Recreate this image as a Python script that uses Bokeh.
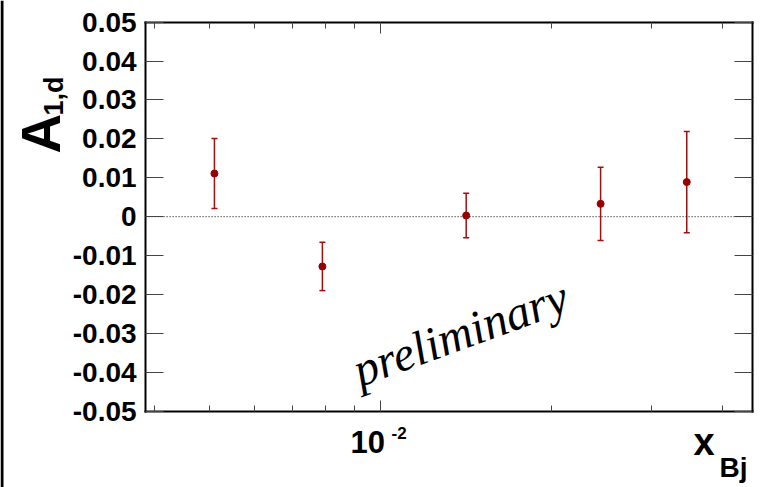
import math

from bokeh.embed import file_html
from bokeh.models import (ColumnDataSource, FixedTicker, Label, LinearAxis, LogAxis,
                          Range1d, Span, TeeHead, Whisker)
from bokeh.plotting import figure
from bokeh.resources import INLINE

# data
x_bj = [0.0051, 0.0079, 0.01415, 0.0244, 0.0346]
a1d = [0.0111, -0.0128, 0.0003, 0.0033, 0.0089]
a1d_err = [0.0090, 0.0062, 0.0057, 0.0094, 0.0130]

y_ticks = [-0.05, -0.04, -0.03, -0.02, -0.01, 0.0, 0.01, 0.02, 0.03, 0.04, 0.05]
y_tick_labels = ["-0.05", "-0.04", "-0.03", "-0.02", "-0.01", "0",
                 "0.01", "0.02", "0.03", "0.04", "0.05"]
x_major = [0.01]
x_minor = [0.004, 0.005, 0.006, 0.007, 0.008, 0.009, 0.02, 0.03, 0.04]

# ROOT frame limits, and the canvas range around it
X_LO, X_HI = 0.003858, 0.04518
Y_LO, Y_HI = -0.05, 0.05

RED = "#990000"
BAR = "#a01010"
TICK = "#444444"
FONT = "Liberation Sans"

src = ColumnDataSource(data=dict(
    x=x_bj, y=a1d,
    upper=[v + e for v, e in zip(a1d, a1d_err)],
    lower=[v - e for v, e in zip(a1d, a1d_err)],
))

p = figure(width=763, height=487, x_axis_type="log",
           x_range=Range1d(0.0021427, 0.047224), y_range=Range1d(-0.069619, 0.055572),
           output_backend="svg", toolbar_location=None, min_border=0)
p.grid.visible = False
p.outline_line_color = None
p.background_fill_color = "white"
p.border_fill_color = "white"


def frame_axis(ax, loc, bounds, major_in, minor_in, ticker):
    ax.fixed_location = loc
    ax.bounds = bounds
    ax.ticker = ticker
    ax.axis_line_width = 2
    ax.axis_line_cap = "square"
    ax.major_tick_in = major_in
    ax.major_tick_out = 0
    ax.major_tick_line_color = TICK
    if minor_in:
        ax.minor_tick_in = minor_in
        ax.minor_tick_out = 0
        ax.minor_tick_line_color = TICK
    else:
        ax.minor_tick_line_color = None
    ax.major_label_text_color = None
    ax.major_label_text_font_size = "2px"
    ax.major_label_standoff = 0


# left axis with labels
ya = p.yaxis[0]
frame_axis(ya, X_LO, (Y_LO, Y_HI), 18, 0, FixedTicker(ticks=y_ticks))
ya.major_label_overrides = {t: s for t, s in zip(y_ticks, y_tick_labels)}
ya.major_label_standoff = 9
ya.major_label_text_font = FONT
ya.major_label_text_font_style = "bold"
ya.major_label_text_font_size = "28px"
ya.major_label_text_color = "black"

# bottom axis, its tick label is drawn below
xa = p.xaxis[0]
frame_axis(xa, Y_LO, (X_LO, X_HI), 11, 6, FixedTicker(ticks=x_major, minor_ticks=x_minor))

# mirrored ticks on right and top
ra = LinearAxis()
frame_axis(ra, X_HI, (Y_LO, Y_HI), 18, 0, FixedTicker(ticks=y_ticks))
p.add_layout(ra, "right")
ta = LogAxis()
frame_axis(ta, Y_HI, (X_LO, X_HI), 11, 6, FixedTicker(ticks=x_major, minor_ticks=x_minor))
p.add_layout(ta, "above")

# zero line inside the frame
p.segment(x0=[X_LO], y0=[0], x1=[X_HI], y1=[0], line_color="black",
          line_width=1, line_dash="1 2")

p.add_layout(Whisker(source=src, base="x", upper="upper", lower="lower",
                     line_color=BAR, line_width=1.5,
                     upper_head=TeeHead(size=6, line_color=BAR, line_width=1.5),
                     lower_head=TeeHead(size=6, line_color=BAR, line_width=1.5)))
p.scatter("x", "y", source=src, size=7, color=RED)


def lab(text, x, y, size, style="bold", font=FONT, angle=0.0):
    p.add_layout(Label(x=x, y=y, x_units="screen", y_units="screen", text=text,
                       text_font=font, text_font_style=style, text_font_size=size,
                       text_color="black", text_align="left", text_baseline="alphabetic",
                       angle=angle))


# axis titles and the tick label of the log axis
lab("A", 40, 334, "55px", angle=math.pi / 2)
lab("1,d", 53, 372, "27px", angle=math.pi / 2)
lab("10", 350, 46, "31px")
lab("-2", 391, 55, "17px")
lab("x", 693, 46, "38px")
lab("Bj", 719, 20, "28px")
lab("preliminary", 354, 116, "48px", style="italic", font="Liberation Serif",
    angle=math.radians(20))

# dark edge at the left border of the picture
p.add_layout(Span(location=1.5, location_units="screen", dimension="height",
                  line_color="black", line_width=3))

open("out.html", "w").write(file_html(p, INLINE))
